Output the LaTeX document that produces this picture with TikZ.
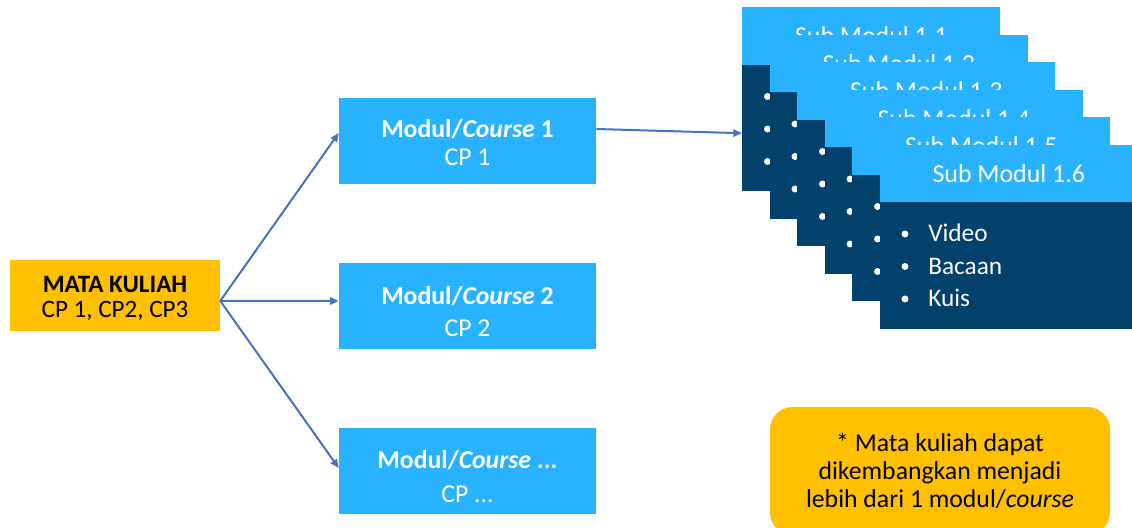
\documentclass[tikz,border=0pt]{standalone}
\usepackage{fontspec}
\setmainfont{Carlito}
\usetikzlibrary{arrows.meta}
\definecolor{lblue}{HTML}{28B2FF}
\definecolor{navy}{HTML}{02416B}
\definecolor{gold}{HTML}{FFC000}
\definecolor{arr}{HTML}{4472C4}
\begin{document}
\begin{tikzpicture}[x=0.75pt,y=-0.75pt,
  modbox/.style={fill=lblue, minimum width=192.75pt, minimum height=64.5pt, inner sep=0pt},
  modtext/.style={text=white, align=center, inner sep=0pt, font=\fontsize{19.3}{21}\selectfont},
  hdr/.style={fill=lblue, text=white, minimum width=193.5pt, minimum height=43.125pt,
    inner sep=0pt, anchor=north west, font=\fontsize{19.4}{21}\selectfont},
  bodybox/.style={fill=navy, minimum width=193.5pt, minimum height=94.875pt,
    inner sep=0pt, anchor=north west},
  item/.style={text=white, anchor=west, inner sep=0pt, font=\fontsize{19}{21}\selectfont},
  conn/.style={draw=arr, line width=1.5pt, -{Triangle[length=6.5pt,width=5.5pt]}},
  ]
\clip (0,0) rectangle (1132,528);
\fill[white] (0,0) rectangle (1132,528);

% main course
\node[fill=gold, minimum width=157.5pt, minimum height=53.25pt, inner sep=0pt,
  label={[align=center, inner sep=0pt, yshift=-2.3pt, font=\fontsize{18.8}{19}\selectfont]center:{\textbf{MATA KULIAH}\\CP 1, CP2, CP3}}]
  (mk) at (115,295.5) {};

% modules
\node[modbox, label={[modtext, yshift=-1.5pt]center:{\textbf{Modul/\textit{Course} 1}\\CP 1}}]
  (m1) at (467.5,141) {};
\node[modbox, label={[modtext, yshift=-3.8pt]center:{\textbf{Modul/\textit{Course} 2}\\[3pt]CP 2}}]
  (m2) at (467.5,306) {};
\node[modbox, label={[modtext, yshift=-4.2pt]center:{\textbf{Modul/\textit{Course} ...}\\[4pt]CP ...}}]
  (m3) at (467.5,471) {};

% stacked sub-module cards
\foreach \i in {0,...,5} {
  \pgfmathsetmacro\L{742+27.5*\i}
  \pgfmathsetmacro\T{7+27.5*\i}
  \pgfmathsetmacro\n{int(\i+1)}
  \node[hdr] (hdr\i) at (\L,\T) {Sub Modul 1.\n};
  \node[bodybox] (body\i) at (\L,\T+57.5) {};
  \foreach \k in {0,1,2} {
    \fill[white] (\L+25.5,\T+89.5+32.5*\k) circle (2.6pt);
  }
}
\node[item] (v) at (928,233) {Video};
\node[item] (b) at (928,266) {Bacaan};
\node[item] (q) at (928,298) {Kuis};

% connectors
\draw[conn] ([yshift=-4.1pt]mk.east) -- ([yshift=6pt]m1.west);
\draw[conn] ([yshift=-4.1pt]mk.east) -- ([yshift=3.75pt]m2.west);
\draw[conn] ([yshift=-4.1pt]mk.east) -- ([yshift=2.25pt]m3.west);
\draw[conn] ([yshift=9pt]m1.east) -- ([yshift=-3.9pt]body0.west);

% note
\node[fill=gold, rounded corners=17pt, minimum width=255pt, minimum height=96pt, inner sep=0pt,
  align=center, font=\fontsize{19.3}{21}\selectfont] (note) at (940,471)
  {* Mata kuliah dapat\\dikembangkan menjadi\\lebih dari 1 modul/\textit{course}};
\end{tikzpicture}
\end{document}
